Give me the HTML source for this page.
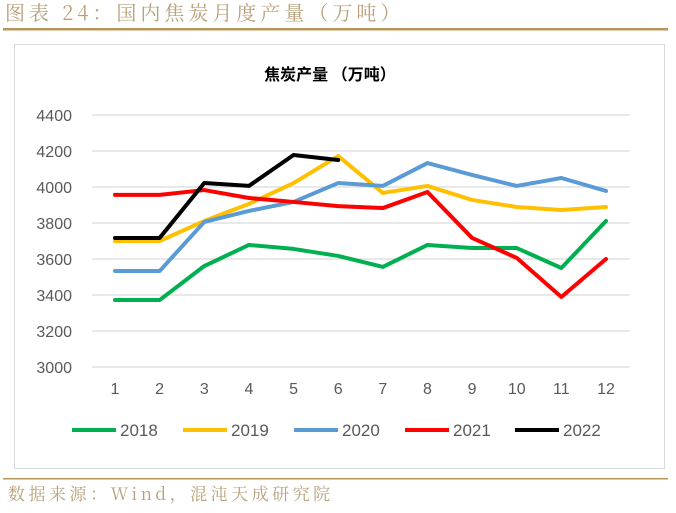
<!DOCTYPE html>
<html><head><meta charset="utf-8"><style>
body{margin:0;background:#fff;width:676px;height:508px;overflow:hidden;font-family:"Liberation Sans","Noto Sans CJK SC",sans-serif}
</style></head><body>
<svg width="676" height="508" xmlns="http://www.w3.org/2000/svg">
<text x="5" y="20" font-size="20" letter-spacing="4" fill="#b8a079" font-family="'Noto Serif CJK SC',serif">图表 24：国内焦炭月度产量（万吨）</text>
<rect x="3" y="28" width="665" height="2.5" fill="#b8955a"/>
<rect x="14.5" y="44.5" width="650" height="424" fill="#fff" stroke="#d9d9d9"/>
<text x="330" y="80" font-size="16" font-weight="bold" text-anchor="middle" font-family="'Noto Sans CJK SC',sans-serif">焦炭产量 （万吨）</text>
<g id="grid"></g><g id="series"></g><g id="legend"></g>
<rect x="3" y="478" width="665" height="1.5" fill="#b8955a"/>
<text x="8" y="500" font-size="17" letter-spacing="3.5" fill="#b8a079" font-family="'Noto Serif CJK SC',serif">数据来源：Wind，混沌天成研究院</text>
</svg>
<script>
const months=[1,2,3,4,5,6,7,8,9,10,11,12];
const yTicks=[3000,3200,3400,3600,3800,4000,4200,4400];
const names=["2018","2019","2020","2021","2022"];
const colors=["#00b050","#ffc000","#5b9bd5","#ff0000","#000000"];
const s2018=[3372,3372,3561,3678,3656,3617,3556,3678,3661,3661,3550,3811];
const s2019=[3700,3700,3811,3906,4022,4172,3967,4006,3928,3889,3872,3889];
const s2020=[3533,3533,3806,3867,3917,4022,4006,4133,4067,4006,4050,3978];
const s2021=[3956,3956,3983,3939,3917,3894,3883,3972,3717,3606,3389,3600];
const s2022=[3717,3717,4022,4006,4178,4150];
const series=[s2018,s2019,s2020,s2021,s2022];
const NS="http://www.w3.org/2000/svg";
const x=m=>115+(m-1)*(606-115)/11;
const y=v=>367-(v-3000)*36/200;
function mk(t,a,p){const e=document.createElementNS(NS,t);for(const k in a)e.setAttribute(k,a[k]);p.appendChild(e);return e;}
const g=document.getElementById('grid');
yTicks.forEach(v=>{
 if(v>3000){const l=mk('line',{x1:92,x2:630,y1:y(v),y2:y(v),stroke:'#d9d9d9','stroke-width':1.2},g);
 
 }
 const t=mk('text',{x:72,y:y(v)+6,'font-size':16,fill:'#595959','text-anchor':'end'},g);t.textContent=v;
 
 
});
mk('line',{x1:92,x2:630,y1:367,y2:367,stroke:'#d9d9d9','stroke-width':1.2},g);
months.forEach(m=>{const t=mk('text',{x:x(m),y:394,'font-size':16,fill:'#595959','text-anchor':'middle'},g);t.textContent=m;
 
 });
const sg=document.getElementById('series');
series.forEach((s,i)=>{const p=mk('polyline',{points:s.map((v,j)=>x(months[j])+','+y(v)).join(' '),fill:'none',stroke:colors[i],'stroke-width':4,'stroke-linejoin':'round','stroke-linecap':'round'},sg);
 
 });
const lg=document.getElementById('legend');
const lx=[72,183,294,405,515];
names.forEach((n,i)=>{const gg=mk('g',{},lg);
 
 
 mk('line',{x1:lx[i],x2:lx[i]+44,y1:430,y2:430,stroke:colors[i],'stroke-width':4},gg);
 const t=mk('text',{x:lx[i]+48,y:436,'font-size':17,fill:'#595959'},gg);t.textContent=n;});
</script>
</body></html>
